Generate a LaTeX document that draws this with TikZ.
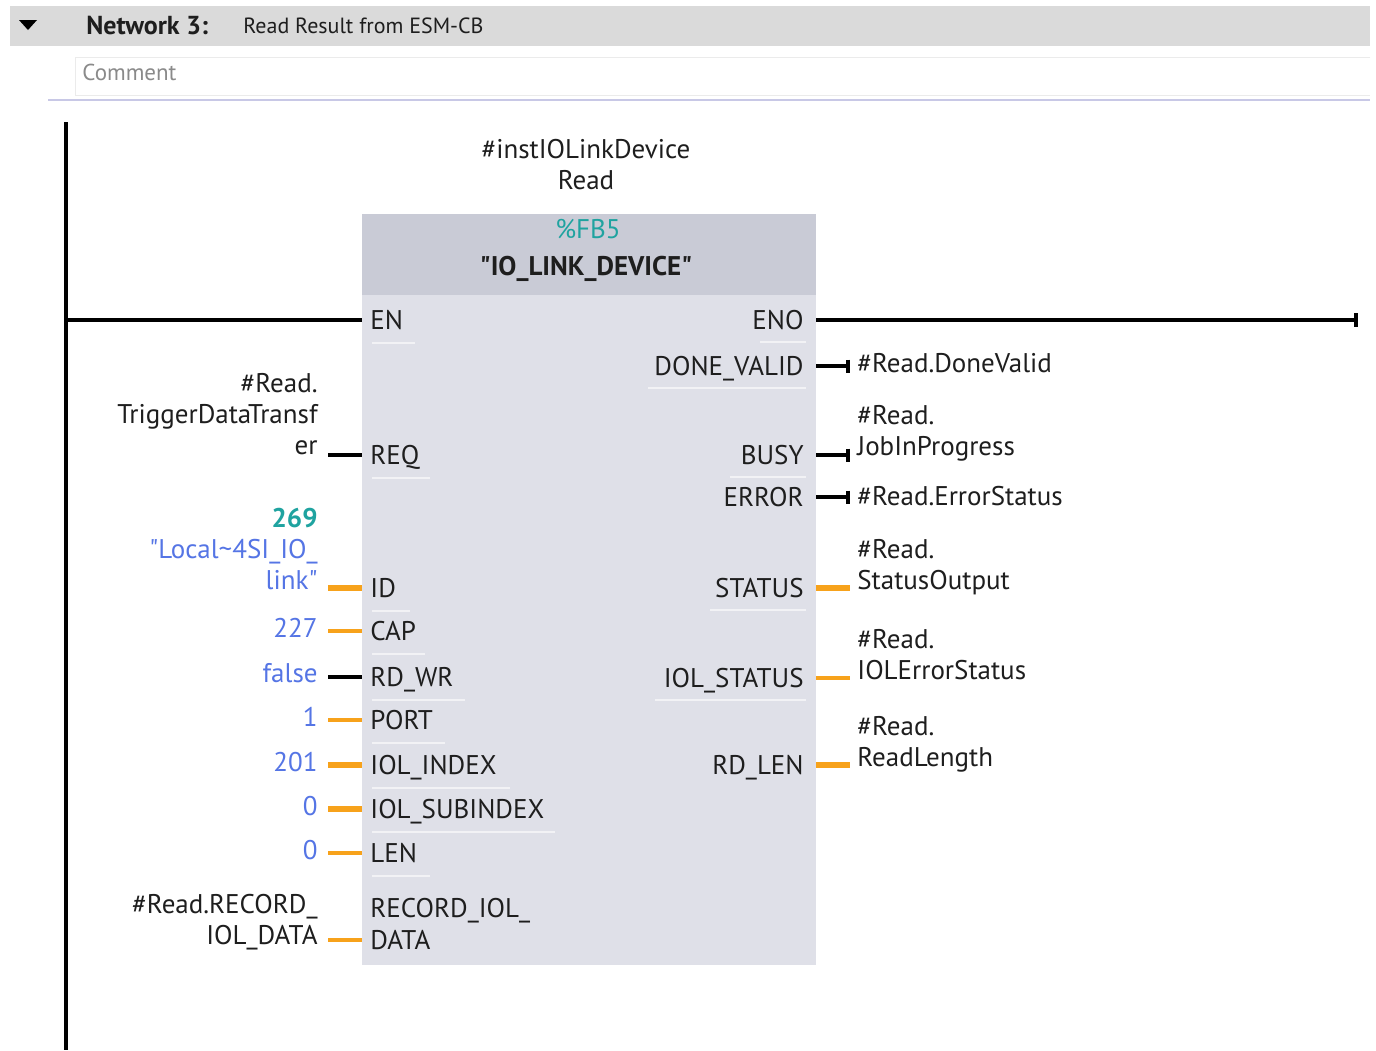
\documentclass[tikz,border=0pt]{standalone}
\usepackage{fontspec}
\setmainfont{PT Sans}
\usetikzlibrary{arrows.meta}
\definecolor{headgray}{HTML}{DADADA}
\definecolor{fbhead}{HTML}{C9CBD6}
\definecolor{fbbody}{HTML}{DFE0E8}
\definecolor{fbteal}{HTML}{1FA3A0}
\definecolor{opblue}{HTML}{5575E5}
\definecolor{wireorange}{HTML}{F7A21B}
\definecolor{textdark}{HTML}{1E1E1E}
\definecolor{ruleblue}{HTML}{C8C8E6}
\definecolor{commentgray}{HTML}{8A8A8A}
\newcommand{\ladfont}{\fontsize{13.5}{15.5}\selectfont}
\begin{document}
\begin{tikzpicture} [
                x=0.5pt, y=-0.5pt,
                every node/.style={font=\ladfont, text=textdark},
                pin in/.style={anchor=west, inner xsep=4pt, inner ysep=1pt, text height=9.5pt, text depth=0pt},
                pin out/.style={anchor=east, inner xsep=6pt, inner ysep=1pt, text height=9.5pt, text depth=0pt},
                operand in/.style={anchor=east, inner xsep=5pt, inner ysep=0pt, align=right},
                operand out/.style={anchor=west, inner xsep=3.5pt, inner ysep=0pt, align=left},
                value/.style={operand in, text=opblue},
                bool wire/.style={draw=black, line width=1.6pt},
                int wire/.style={draw=wireorange, line width=2pt},
                word wire/.style={draw=wireorange, line width=2.8pt},
                assign/.style={-{Bar[width=6.5pt,line width=1.8pt]}},
                pin sep/.style={draw=white, draw opacity=0.6, line width=0.8pt},
                rail/.style={draw=black, line width=2pt},
            ]
            \fill[white] (0,0) rectangle (1376,1050);
            \useasboundingbox (0,0) rectangle (1376,1050);
            % Network header and comment field
            \fill[headgray] (10,6) rectangle (1370,46);
            \fill[black] (19,20) -- (37,20) -- (28,30) -- cycle;
            \node[anchor=west, inner xsep=0pt, font=\fontsize{13}{15}\selectfont\bfseries] (title) at (86,26) {Network 3:};
            \node[anchor=west, inner xsep=0pt, font=\fontsize{11}{13}\selectfont] (titletext) at (243,26) {Read Result from ESM-CB};
            \draw[draw=black!8, fill=white] (1370,57) -- (75,57) -- (75,95) -- (1370,95);
            \node[anchor=west, inner xsep=0pt, text=commentgray, font=\fontsize{11.5}{13}\selectfont] (comment) at (82,72) {Comment};
            \draw[ruleblue, line width=0.8pt] (48,100) -- (1370,100);
            % The function block
            \node[fill=fbbody, minimum width=227pt, minimum height=375.5pt, inner sep=0pt] (fb) at (589,589.5) {};
            \fill[fbhead] (fb.north west) rectangle ([yshift=-40.5pt]fb.north east);
            \node[text=fbteal] (fbnum) at (588,229) {\%FB5};
            \node[font=\ladfont\bfseries] (fbname) at (586,269) {\textquotedbl IO\_LINK\_DEVICE\textquotedbl};
            \node[align=center] (inst) at (586,165) {\#instIOLinkDevice\\Read};
            % Input and output pins
            \foreach \name/\txt/\y in {
                    EN/EN/320, REQ/REQ/455, ID/ID/588, CAP/CAP/631, RDWR/RD\_WR/677, PORT/PORT/720,
                    INDEX/IOL\_INDEX/765, SUBINDEX/IOL\_SUBINDEX/809, LEN/LEN/853, RECORD/DATA/940}
                \node[pin in] (\name) at (362,\y) {\txt};
            \node[pin in] (RECORDtop) at ([yshift=16pt]RECORD.west) {RECORD\_IOL\_};
            \foreach \name/\txt/\y in {
                    ENO/ENO/320, DONE/DONE\_VALID/366, BUSY/BUSY/455, ERROR/ERROR/497,
                    STATUS/STATUS/588, IOLSTATUS/IOL\_STATUS/678, RDLEN/RD\_LEN/765}
                \node[pin out] (\name) at (816,\y) {\txt};
            % thin separators below the pins
            \foreach \name/\len in {
                    EN/43, REQ/58, ID/38, CAP/53, RDWR/93, PORT/73, INDEX/138, SUBINDEX/183, LEN/58}
                \draw[pin sep] ([xshift=5pt,yshift=-11.5pt]\name.west) -- ++(\len,0);
            \foreach \name/\len in {
                    ENO/46, DONE/158, BUSY/76, STATUS/96, IOLSTATUS/151}
                \draw[pin sep] ([xshift=-5pt,yshift=-11pt]\name.east) -- ++(-\len,0);
            % Power rail, EN and ENO
            \coordinate (railtop) at (66,122);
            \coordinate (railbot) at (66,1050);
            \coordinate (enoend) at (1358,320);
            \draw[rail] (railtop) -- (railbot);
            \draw[rail] (railtop |- EN.west) -- (EN.west);
            \draw[rail, -{Bar[width=7pt,line width=2pt]}] (ENO.east) -- (enoend);
            % Operands on the inputs
            \node[operand in] (opREQ) at (328,414) {\#Read.\\TriggerDataTransf\\er};
            \node[operand in, text=opblue] (opID) at (328,549) {{\color{fbteal}\bfseries 269}\\\textquotedbl Local\textasciitilde 4SI\_IO\_\\link\textquotedbl};
            \foreach \name/\val/\y in {
                    CAP/227/628, RDWR/false/673, PORT/1/717, INDEX/201/762, SUBINDEX/0/806, LEN/0/850}
                \node[value] (op\name) at (328,\y) {\val};
            \node[operand in] (opRECORD) at (328,922) {\#Read.RECORD\_\\IOL\_DATA};
            \foreach \name/\wire in {
                    REQ/bool wire, ID/word wire, CAP/int wire, RDWR/bool wire, PORT/int wire,
                    INDEX/word wire, SUBINDEX/word wire, LEN/int wire, RECORD/int wire}
                \draw[\wire] (op\name.east |- \name.west) -- (\name.west);
            % Operands on the outputs
            \node[operand out] (opDONE) at (850,363) {\#Read.DoneValid};
            \node[operand out] (opBUSY) at (850,433) {\#Read.\\JobInProgress};
            \node[operand out] (opERROR) at (850,496) {\#Read.ErrorStatus};
            \node[operand out] (opSTATUS) at (850,567) {\#Read.\\StatusOutput};
            \node[operand out] (opIOLSTATUS) at (850,655) {\#Read.\\IOLErrorStatus};
            \node[operand out] (opRDLEN) at (850,744) {\#Read.\\ReadLength};
            \foreach \name in {DONE, BUSY, ERROR}
                \draw[bool wire, assign] (\name.east) -- (op\name.west |- \name.east);
            \foreach \name/\wire in {
                    STATUS/word wire, IOLSTATUS/int wire, RDLEN/word wire}
                \draw[\wire] (\name.east) -- (op\name.west |- \name.east);
        \end{tikzpicture}
\end{document}
